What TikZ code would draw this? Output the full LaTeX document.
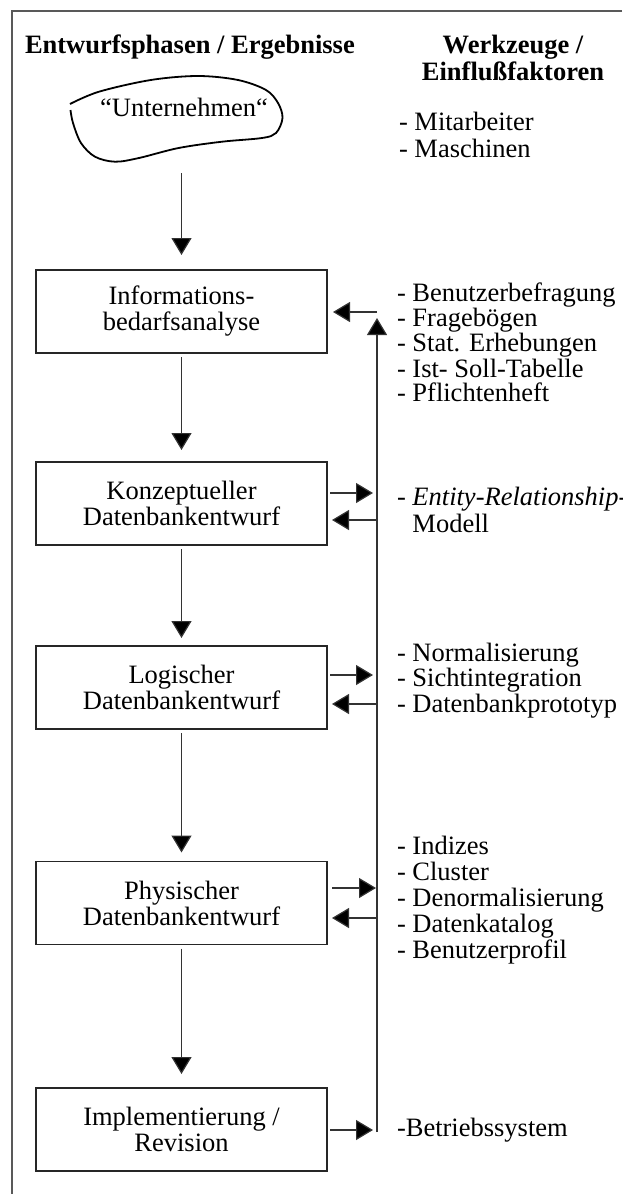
\documentclass[tikz,border=0pt]{standalone}
\usepackage{fontspec}
\setmainfont{Liberation Serif}
\usetikzlibrary{arrows.meta}
\begin{document}
\begin{tikzpicture}[x=1pt,y=-1pt,
  every node/.style={inner sep=0pt, outer sep=0pt},
  body/.style={font=\fontsize{26.5}{26}\selectfont},
  head/.style={font=\fontsize{26.5}{27}\selectfont\bfseries},
  phase/.style={draw=black!85, line width=1.2pt, minimum width=291pt,
                minimum height=83pt, align=center, body},
  flow/.style={draw=black!80, line width=1.2pt,
               -{Triangle[length=17pt,width=20pt,fill=black]}},
  list/.style={anchor=base west, align=left},
  frameline/.style={draw=black!65, line width=1.3pt}
]
\useasboundingbox (0,0) rectangle (622,1194);

% open frame: top and left edges
\draw[frameline] (622,11) -- (12,11) -- (12,1194);

% column headings
\node[head, anchor=base west] (hleft) at (25,53) {Entwurfsphasen / Ergebnisse};
\node[head, anchor=base] (hright1) at (513,53) {Werkzeuge /};
\node[head, anchor=base] (hright2) at (513,80) {Einflußfaktoren};

% the enterprise as a free-form blob
\draw[line width=1.8pt, black] plot[smooth, tension=0.55] coordinates {
  (70,104) (99,91.7) (150.8,80) (198,76) (238,80) (266,90) (278,103)
  (282.5,118) (276,133) (262,138) (222,141.7) (178.6,148) (139,158)
  (115,161.7) (95,156.7) (81,143) (73,123) (70.5,110)};
\node[body, anchor=base] (unt) at (184,116) {“Unternehmen“};

% design phases
\node[phase] (p1) at (181.5,311.5) {Informations-\\bedarfsanalyse};
\node[phase] (p2) at (181.5,503.5) {Konzeptueller\\Datenbankentwurf};
\node[phase] (p3) at (181.5,687.5) {Logischer\\Datenbankentwurf};
\node[phase] (p4) at (181.5,903) {Physischer\\Datenbankentwurf};
\node[phase] (p5) at (181.5,1129.5) {Implementierung /\\Revision};

% tools and influencing factors (each list is anchored at its last baseline)
\node[list, font=\fontsize{26.5}{27}\selectfont] (t0) at (399,157)
  {- Mitarbeiter\\- Maschinen};
\node[list, font=\fontsize{26.5}{24}\selectfont] (t1) at (397,401)
  {- Benutzerbefragung\\- Fragebögen\\- Stat. Erhebungen\\- Ist- Soll-Tabelle\\- Pflichtenheft};
\node[list, font=\fontsize{26.5}{27}\selectfont] (t2) at (397,532)
  {- \textit{Entity-Relationship-}\\\phantom{- }Modell};
\node[list, font=\fontsize{26.5}{25.5}\selectfont] (t3) at (397,712)
  {- Normalisierung\\- Sichtintegration\\- Datenbankprototyp};
\node[list, font=\fontsize{26.5}{25.8}\selectfont] (t4) at (397,958)
  {- Indizes\\- Cluster\\- Denormalisierung\\- Datenkatalog\\- Benutzerprofil};
\node[list, font=\fontsize{26.5}{26}\selectfont] (t5) at (397,1136)
  {-Betriebssystem};

% main flow downwards
\coordinate (start) at (181.5,173);
\draw[flow, shorten >=15pt] (start) -- (p1);
\draw[flow, shorten <=4pt, shorten >=12pt] (p1) -- (p2);
\draw[flow, shorten <=4pt, shorten >=8pt] (p2) -- (p3);
\draw[flow, shorten <=4pt, shorten >=9pt] (p3) -- (p4);
\draw[flow, shorten <=4pt, shorten >=14pt] (p4) -- (p5);

% feedback line on the right
\coordinate (fbottom) at (377,1132);
\coordinate (ftop) at (377,318);
\draw[flow] (fbottom) -- (ftop);

% exchange with the tool column
\coordinate (r1b) at (377,312);
\coordinate (r2a) at (377,493);
\coordinate (r2b) at (377,520);
\coordinate (r3a) at (377,675);
\coordinate (r3b) at (377,704);
\coordinate (r4a) at (377,888);
\coordinate (r4b) at (377,918);
\coordinate (r5a) at (377,1130);

\draw[flow, shorten >=6pt] (r1b) -- (p1.east |- r1b);
\draw[flow, shorten <=3pt, shorten >=4pt] (p2.east |- r2a) -- (r2a);
\draw[flow, shorten >=5pt] (r2b) -- (p2.east |- r2b);
\draw[flow, shorten <=3pt, shorten >=4pt] (p3.east |- r3a) -- (r3a);
\draw[flow, shorten >=5pt] (r3b) -- (p3.east |- r3b);
\draw[flow, shorten <=5pt, shorten >=1pt] (p4.east |- r4a) -- (r4a);
\draw[flow, shorten >=5pt] (r4b) -- (p4.east |- r4b);
\draw[flow, shorten <=3pt, shorten >=4pt] (p5.east |- r5a) -- (r5a);
\end{tikzpicture}
\end{document}
